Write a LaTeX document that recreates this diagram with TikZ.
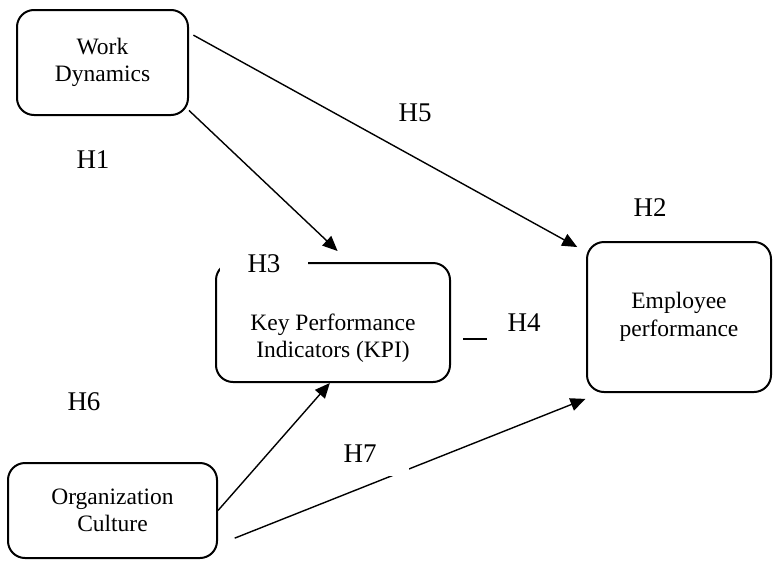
\documentclass[tikz,border=0pt]{standalone}
\usepackage{fontspec}
\setmainfont{Liberation Serif}
\usetikzlibrary{arrows.meta,calc}

\begin{document}
\begin{tikzpicture}[
    x=1pt, y=-1pt,
    varbox/.style={rectangle, draw=black, line width=2pt, rounded corners=17pt, align=center, font=\fontsize{23.5}{27.5}\selectfont},
    boxtext/.style={align=center, font=\fontsize{23.5}{27.5}\selectfont},
    hlabel/.style={font=\fontsize{27}{30}\selectfont, inner sep=0pt},
    hbox/.style={hlabel, fill=white},
    link/.style={-{Triangle[length=15pt,width=13pt]}, line width=1.4pt}
]
\useasboundingbox (0,0) rectangle (773,560);

\node[varbox, minimum width=171pt, minimum height=105pt] (wd) at (102.5,62.5) {Work\\Dynamics};
\node[varbox, minimum width=234pt, minimum height=119pt] (kpi) at (333,322.5) {};
\node[boxtext] (kpitext) at (333,338) {Key Performance\\Indicators (KPI)};
\node[varbox, minimum width=184pt, minimum height=150pt] (emp) at (679,317) {Employee\\performance};
\node[varbox, minimum width=209pt, minimum height=95pt] (oc) at (112.5,510.5) {Organization\\Culture};

\draw[link, shorten >=16pt] (wd.-29) -- (kpi.75);
\draw[link, shorten <=5pt, shorten >=10pt] (wd.19) -- (emp.145);
\draw[link] (oc.east) -- (kpi.-93);
\draw[link, shorten <=18pt, shorten >=16pt] (oc.-18) -- (emp.-136);

\node[hlabel] (h1) at (93,160) {H1};
\node[hlabel] (h5) at (415,113) {H5};
\node[hlabel] (h2) at (650,208) {H2};
\node[hbox, minimum width=88pt, minimum height=36pt] (h3) at (264,264) {H3};
\node[hlabel] (h4) at (524,323) {H4};
\node[hlabel] (h6) at (84,402) {H6};
\node[hbox, minimum width=98pt, minimum height=44pt] (h7) at (360,454) {H7};

\coordinate (d1) at (463,339);
\coordinate (d2) at (487,339);
\draw[line width=1.6pt] (d1) -- (d2);
\end{tikzpicture}
\end{document}
